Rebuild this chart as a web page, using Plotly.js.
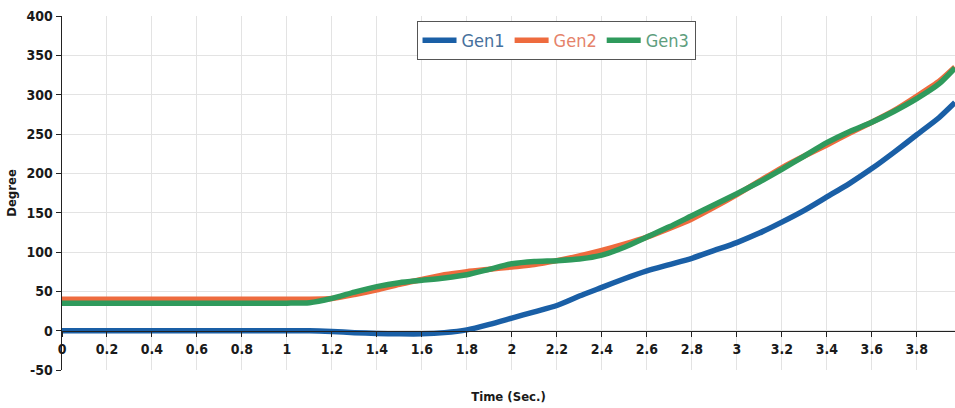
<!DOCTYPE html>
<html>
<head>
<meta charset="utf-8">
<script src="https://cdn.plot.ly/plotly-3.0.1.min.js"></script>
<style>html,body{margin:0;padding:0;background:#fff;}#chart{width:955px;height:408px;}</style>
</head>
<body>
<div id="chart"></div>
<script>
const time = [0,0.1,0.2,0.3,0.4,0.5,0.6,0.7,0.8,0.9,1.0,1.1,1.2,1.3,1.4,1.5,1.6,1.7,1.8,1.9,2.0,2.1,2.2,2.3,2.4,2.5,2.6,2.7,2.8,2.9,3.0,3.1,3.2,3.3,3.4,3.5,3.6,3.7,3.8,3.9,3.97];
const gen1 = [0,0,0,0,0,0,0,0,0,0,0,0,-1,-2.5,-3.5,-4,-4,-2.5,1,8,16,24,32,44,55,66,76,84,92,102,112,124,138,153,170,187,206,227,249,271,290];
const gen2 = [40,40,40,40,40,40,40,40,40,40,40,40,41,46,52,59,65,71,75,78,81,84,89,95,102,110,119,130,142,157,173,190,207,222,236,251,265,280,298,317,335];
const gen3 = [35,35,35,35,35,35,35,35,35,35,35,35.5,41,49,56,61,64,67,71,78,85,88,89,91,96,106,119,132,146,160,174,189,205,222,239,253,265,279,295,314,334];
const seriesNames = ['Gen1','Gen2','Gen3'];
const lineColors = ['#1a5fa6','#ee6b3e','#2f9a5c'];
const textColors = ['#46709c','#e5826a','#5e9e7e'];
const yTickVals = [-50,0,50,100,150,200,250,300,350,400];
const yTickText = ['-50','0','50','100','150','200','250','300','350','400'];
const xTickVals = [0,0.2,0.4,0.6,0.8,1,1.2,1.4,1.6,1.8,2,2.2,2.4,2.6,2.8,3,3.2,3.4,3.6,3.8];
const xTickText = ['0','0.2','0.4','0.6','0.8','1','1.2','1.4','1.6','1.8','2','2.2','2.4','2.6','2.8','3','3.2','3.4','3.6','3.8'];

const F = 'DejaVu Sans Condensed, Liberation Sans Narrow, Liberation Sans, sans-serif';
const allY = [gen1, gen2, gen3];
const traces = allY.map((y, i) => ({
  x: time, y: y, type: 'scatter', mode: 'lines',
  name: '<span style="color:' + textColors[i] + '">' + seriesNames[i] + '</span>',
  line: {color: lineColors[i], width: 5.5, shape: 'spline', smoothing: 0.6}
}));

const tf = {family: F, size: 14, weight: 'bold', stretch: 'condensed', color: '#1a1a1a'};
const ttf = {family: F, size: 13, weight: 'bold', stretch: 'condensed', color: '#1a1a1a'};
const layout = {
  width: 955, height: 408,
  margin: {l: 62, r: 0, t: 16, b: 38},
  paper_bgcolor: '#fff', plot_bgcolor: '#fff',
  font: {family: F, color: '#1a1a1a', size: 13},
  showlegend: true,
  legend: {
    orientation: 'h', x: 0.397, y: 0.986, xanchor: 'left', yanchor: 'top',
    bgcolor: '#fff', bordercolor: '#555', borderwidth: 1,
    font: {family: F, size: 18, stretch: 'condensed'}, itemwidth: 34, tracegroupgap: 0
  },
  xaxis: {
    range: [0, 3.97], tickvals: xTickVals, ticktext: xTickText,
    anchor: 'free', position: 50/450,
    showline: true, linecolor: '#222', linewidth: 1.5,
    ticks: 'outside', ticklen: 5, tickcolor: '#222',
    showgrid: true, gridcolor: '#e3e3e3', gridwidth: 1, zeroline: false,
    tickfont: tf,
    title: {text: 'Time (Sec.)', standoff: 36, font: ttf}
  },
  yaxis: {
    range: [-50, 400], tickvals: yTickVals, ticktext: yTickText,
    showline: true, linecolor: '#222', linewidth: 1.5,
    ticks: 'outside', ticklen: 5, tickcolor: '#222',
    showgrid: true, gridcolor: '#e3e3e3', gridwidth: 1, zeroline: false,
    tickfont: tf,
    title: {text: 'Degree', standoff: 7, font: ttf}
  }
};
Plotly.newPlot('chart', traces, layout, {displayModeBar: false, staticPlot: true});
</script>
</body>
</html>
